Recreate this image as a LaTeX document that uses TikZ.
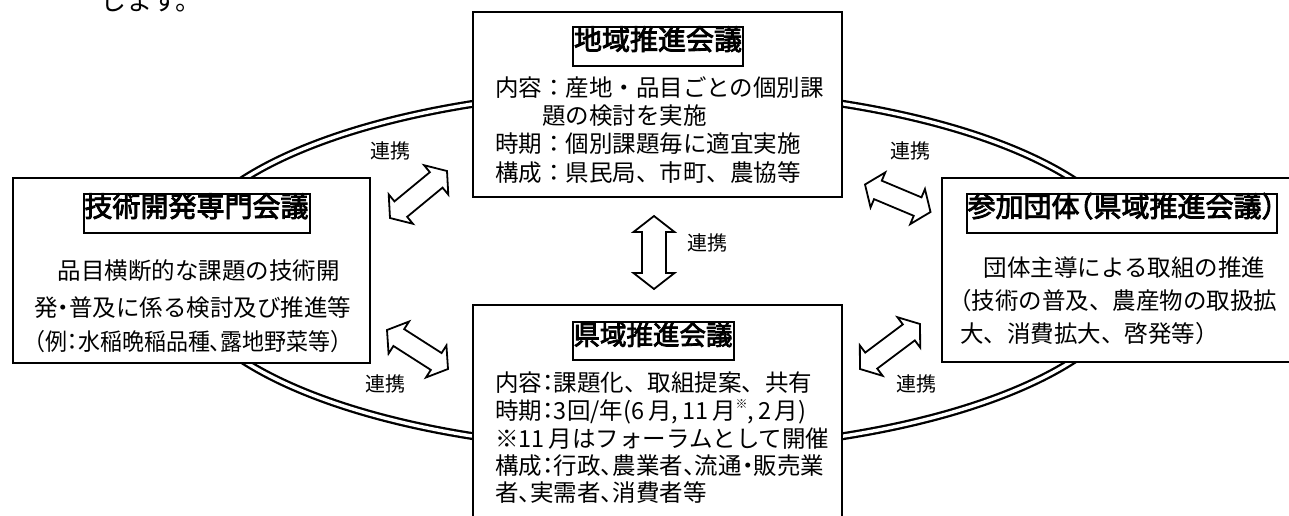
\documentclass[tikz,border=0pt]{standalone}
\usepackage{fontspec}
\usepackage{graphicx}
\setmainfont{Noto Sans CJK JP}
\newfontfamily\ttlfont[FakeBold=3]{Noto Sans CJK JP}
\usetikzlibrary{calc}
\newcommand\hb[1]{\makebox[.5em][l]{#1}}
\newcommand\hr[1]{\makebox[.5em][r]{#1}}
\newcommand\hm[1]{\makebox[.5em][c]{#1}}
\newcommand\supmark{\raisebox{.45em}{\fontsize{12}{12}\selectfont ※}}
\newcommand\blockarrow[5]{%
  \coordinate (h1) at ($(#1)!#3!(#2)$);
  \coordinate (h2) at ($(#2)!#3!(#1)$);
  \draw[barrow] (#1) -- ($(h1)!#5!90:(#2)$) -- ($(h1)!#4!90:(#2)$)
    -- ($(h2)!#4!-90:(#1)$) -- ($(h2)!#5!-90:(#1)$) -- (#2)
    -- ($(h2)!#5!90:(#1)$) -- ($(h2)!#4!90:(#1)$)
    -- ($(h1)!#4!-90:(#2)$) -- ($(h1)!#5!-90:(#2)$) -- cycle;}
\tikzset{
  box/.style={draw, line width=2.5pt, fill=white, inner sep=0pt},
  ttl/.style={draw, line width=2pt, fill=white, inner xsep=1pt, inner ysep=0pt,
    minimum height=39pt, text height=.88em, text depth=.12em,
    font=\fontsize{28}{30}\ttlfont},
  body/.style={anchor=base west, inner sep=0pt, font=\fontsize{23.5}{28}\selectfont},
  lbl/.style={inner sep=0pt, text height=.88em, text depth=.12em,
    font=\fontsize{20}{24}\selectfont},
  ring/.style={double=white, double distance=3.4pt, line width=2.3pt},
  barrow/.style={draw, fill=white, line width=1.8pt, line join=miter},
}
\begin{document}
\begin{tikzpicture}[x=1pt, y=-1pt]
\useasboundingbox (0,0) rectangle (1289,515);
\clip (0,0) rectangle (1289,515);
\fill[white] (0,0) rectangle (1289,515);

\node[body, font=\fontsize{26}{30}\selectfont] (prev) at (100,10) {します。};

% ring
\draw[ring] (658,270) ellipse [x radius=480, y radius=180];

% arrows
\coordinate (ulA) at (390,218); \coordinate (ulB) at (447,171);
\coordinate (llA) at (387,330); \coordinate (llB) at (448,369);
\coordinate (urA) at (865,184.5); \coordinate (urB) at (930.5,212);
\coordinate (lrA) at (860,369); \coordinate (lrB) at (920,324);
\coordinate (vA) at (654,216); \coordinate (vB) at (654,289);
\blockarrow{ulA}{ulB}{14pt}{10pt}{19pt}
\blockarrow{llA}{llB}{14pt}{10pt}{19pt}
\blockarrow{urA}{urB}{14pt}{10pt}{19pt}
\blockarrow{lrA}{lrB}{14pt}{10pt}{19pt}
\blockarrow{vA}{vB}{16pt}{12pt}{20.5pt}

% labels
\node[lbl] (L1) at (390,155) {連携};
\node[lbl] (L2) at (910,155) {連携};
\node[lbl] (L3) at (707,247) {連携};
\node[lbl] (L4) at (385,388) {連携};
\node[lbl] (L5) at (916,388) {連携};

% boxes
\node[box, minimum width=369pt, minimum height=185pt] (top) at (657.5,104.5) {};
\node[box, minimum width=357pt, minimum height=185pt] (left) at (191.5,270.5) {};
\node[box, minimum width=359pt, minimum height=184pt] (right) at (1121.5,270) {};
\node[box, minimum width=369pt, minimum height=225pt] (bottom) at (657.5,417.5) {};

% titles
\node[ttl] (tt) at (658,46) {地域推進会議};
\node[ttl] (lt) at (196.5,213) {技術開発専門会議};
\node[ttl] (rt) at (1121.5,213) {参加団体\hr{（}県域推進会議\hb{）}};
\node[ttl, font=\fontsize{26.5}{30}\ttlfont, minimum height=38pt] (bt) at (653,341) {県域推進会議};

% top body
\node[body] (t1) at (495,96) {内容：産地・品目ごとの個別課};
\node[body] (t2) at (542,124) {題の検討を実施};
\node[body] (t3) at (495,152) {時期：個別課題毎に適宜実施};
\node[body] (t4) at (495,181) {構成：県民局、市町、農協等};

% left body
\node[body] (l1) at (34,279) {　品目横断的な課題の技術開};
\node[body] (l2) at (34,316) {発\hm{・}普及に係る検討及び推進等};
\node[body] (l3) at (34,350) {\scalebox{0.935}[1]{\hr{（}例\hm{：}水稲晩稲品種\hb{、}露地野菜等\hb{）}}};

% right body
\node[body] (r1) at (960,276) {　団体主導による取組の推進};
\node[body] (r2) at (960,309) {\hr{（}技術の普及、農産物の取扱拡};
\node[body] (r3) at (960,342) {大、消費拡大、啓発等\hb{）}};

% bottom body
\node[body] (b1) at (495,391) {内容\hm{：}課題化、取組提案、共有};
\node[body] (b2) at (495,419) {時期\hm{：}3回/年(6\,月,\,11\,月\supmark,\,2\,月)};
\node[body] (b3) at (495,447) {※11\,月はフォーラムとして開催};
\node[body] (b4) at (495,474) {構成\hm{：}行政\hb{、}農業者\hb{、}流通\hm{・}販売業};
\node[body] (b5) at (495,501) {者\hb{、}実需者\hb{、}消費者等};
\end{tikzpicture}
\end{document}
